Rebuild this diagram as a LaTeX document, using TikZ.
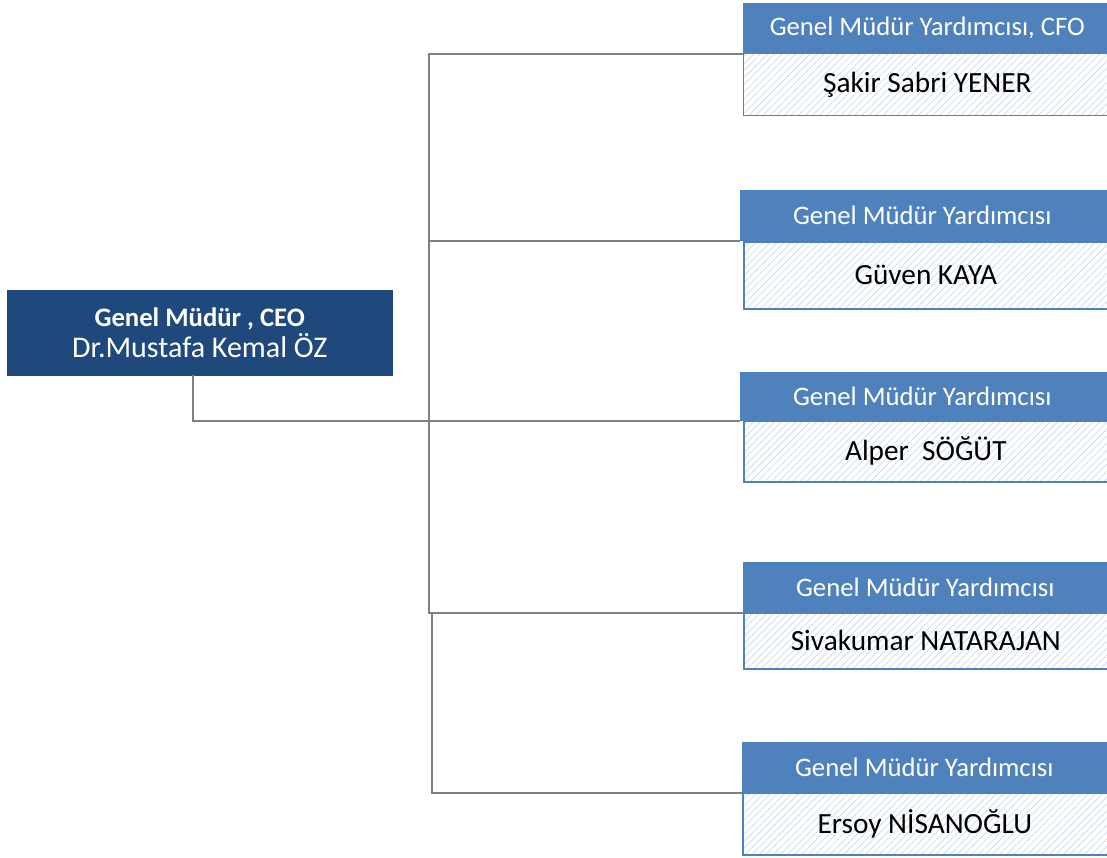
\documentclass[tikz,border=0pt]{standalone}
\usepackage{fontspec}
\setmainfont{Carlito}
\usetikzlibrary{patterns.meta}
\definecolor{hdr}{HTML}{4F81BD}
\definecolor{ceoc}{HTML}{1F497D}
\definecolor{lnc}{HTML}{808080}
\definecolor{hatch}{HTML}{C9D8EC}
\tikzset{
  hdrbox/.style={rectangle, fill=hdr, draw=hdr, line width=0.6pt, anchor=north west, minimum width=372pt, minimum height=50pt, inner sep=0pt, text=white, font=\fontsize{26.7}{30}\selectfont},
  bodybox/.style={rectangle, draw=hdr, line width=1.6pt, anchor=north west, minimum width=372pt, inner sep=0pt, pattern={Lines[angle=45,distance=5pt,line width=0.7pt]}, pattern color=hatch, font=\fontsize{29.3}{32}\selectfont},
  ceobox/.style={rectangle, fill=ceoc, draw=ceoc, anchor=north west, minimum width=385pt, minimum height=85pt, inner sep=0pt, text=white, align=center},
  conn/.style={draw=lnc, line width=1.8pt}
}
\begin{document}
\begin{tikzpicture}[x=1pt,y=-1pt]
\useasboundingbox (0,0) rectangle (1107,857);
% CEO
\node[ceobox] (ceo) at (7,290) {{\fontsize{26.7}{33}\selectfont\bfseries Genel Müdür , CEO}\\[3pt]{\fontsize{30}{33}\selectfont Dr.Mustafa Kemal ÖZ}};
% boxes
\node[hdrbox] (h1) at (743,3) {\hspace*{-4pt}Genel Müdür Yardımcısı, CFO};
\node[bodybox, minimum height=62pt] (b1) at (743,53) {\hspace*{-4pt}Şakir Sabri YENER};
\node[hdrbox] (h2) at (740,190) {\hspace*{-8pt}Genel Müdür Yardımcısı};
\node[bodybox, minimum height=67pt] (b2) at (743,241) {\hspace*{-8pt}Güven KAYA};
\node[hdrbox, minimum height=48pt] (h3) at (740,372) {\hspace*{-8pt}Genel Müdür Yardımcısı};
\node[bodybox, minimum height=61pt] (b3) at (743,420) {\hspace*{-8pt}Alper\ \ SÖĞÜT};
\node[hdrbox] (h4) at (743,562) {\hspace*{-8pt}Genel Müdür Yardımcısı};
\node[bodybox, minimum height=56pt] (b4) at (743,612) {\hspace*{-8pt}Sivakumar NATARAJAN};
\node[hdrbox] (h5) at (742,742) {\hspace*{-8pt}Genel Müdür Yardımcısı};
\node[bodybox, minimum height=62pt] (b5) at (742,792) {\hspace*{-8pt}Ersoy NİSANOĞLU};
% connectors
\coordinate (bus) at (429,300);
\coordinate (bus2) at (432,700);
\draw[conn] (h1.south west) -| (bus) |- (h4.south west);
\draw[conn] (bus) |- (h2.south west);
\draw[conn] (bus) |- (h3.south west);
\draw[conn] ([xshift=-7pt]ceo.south) |- ([xshift=15pt]bus |- h3.south west);
\draw[conn] (bus2 |- h4.south west) |- (h5.south west);
\end{tikzpicture}
\end{document}
